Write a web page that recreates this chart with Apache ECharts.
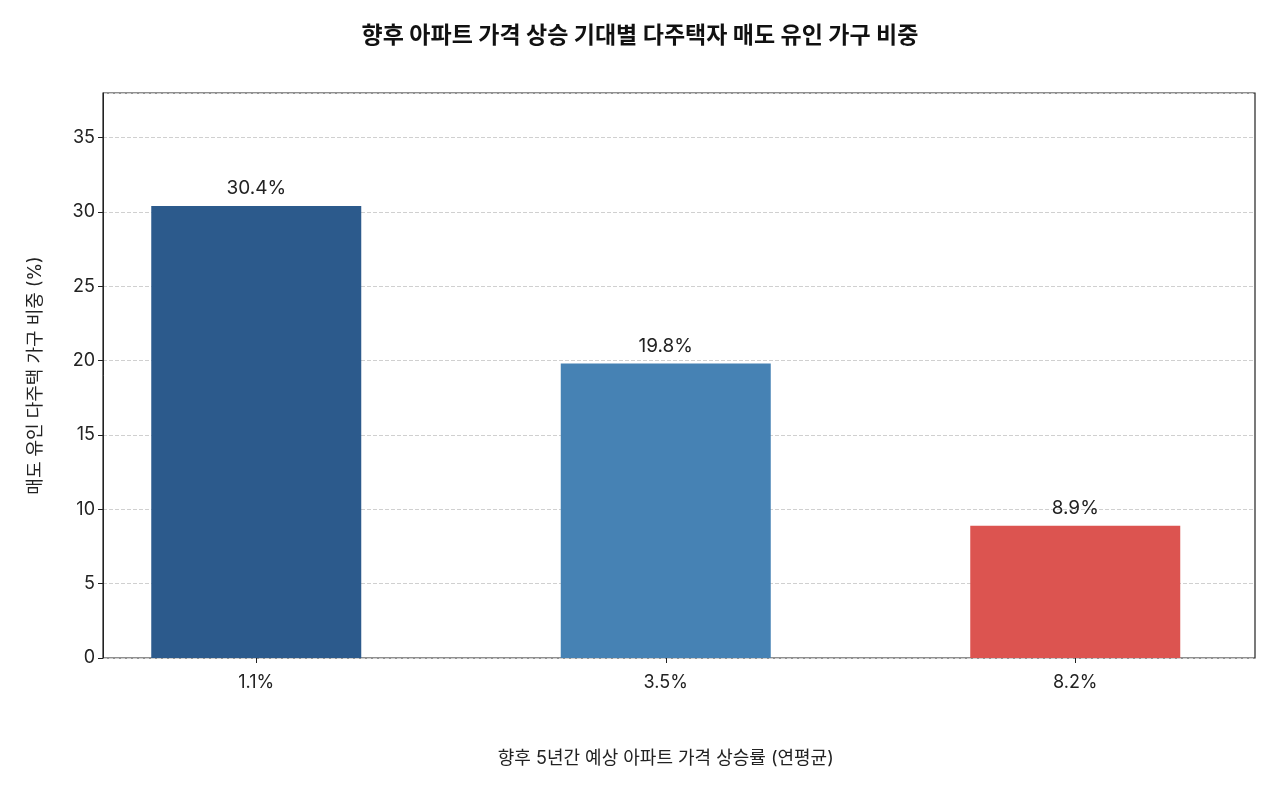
<!DOCTYPE html>
<html><head><meta charset="utf-8">
<script src="https://cdn.jsdelivr.net/npm/echarts@6/dist/echarts.min.js"></script>
<style>html,body{margin:0;background:#fff}#c{width:1280px;height:800px}</style>
</head><body><div id="c"></div>
<script>
const categories = ['1.1%', '3.5%', '8.2%'];
const values = [30.4, 19.8, 8.9];
const colors = ['#2c5a8c', '#4682b4', '#dc5450'];
const F = 'Inter, "Noto Sans CJK KR", sans-serif';
const chart = echarts.init(document.getElementById('c'));
chart.setOption({
  title: { text: '향후 아파트 가격 상승 기대별 다주택자 매도 유인 가구 비중', left: 'center', top: 20,
    textStyle: { fontFamily: F, fontSize: 23, fontWeight: 'bold', color: '#111' } },
  grid: [
    { left: 103, right: 25, top: 93, bottom: 142, show: true, borderColor: '#222', borderWidth: 1.2 },
    { left: 51.5, right: -28.5, top: 93, bottom: 142 }
  ],
  xAxis: [
    { gridIndex: 0, type: 'value', min: 0, max: 1, show: false },
    { gridIndex: 1, type: 'category', data: categories,
      name: '향후 5년간 예상 아파트 가격 상승률 (연평균)', nameLocation: 'middle', nameGap: 92,
      nameTextStyle: { fontFamily: F, fontSize: 18, color: '#222' },
      axisLine: { show: false }, axisTick: { show: true, alignWithLabel: true, lineStyle: { color: '#222' } },
      axisLabel: { fontFamily: F, fontSize: 18, color: '#222', margin: 16 } }
  ],
  yAxis: [
    { gridIndex: 0, type: 'value', min: 0, max: 38, interval: 5,
      name: '매도 유인 다주택 가구 비중 (%)', nameLocation: 'middle', nameGap: 58,
      nameTextStyle: { fontFamily: F, fontSize: 18, color: '#222' },
      axisLine: { show: true, lineStyle: { color: '#222' } }, axisTick: { show: true, lineStyle: { color: '#222' } },
      axisLabel: { fontFamily: F, fontSize: 18, color: '#222', showMaxLabel: false },
      splitLine: { lineStyle: { type: 'dashed', color: '#d0d0d0' } } },
    { gridIndex: 1, type: 'value', min: 0, max: 38, interval: 5, show: false, splitLine: { show: false } }
  ],
  series: [{ type: 'bar', xAxisIndex: 1, yAxisIndex: 1, barWidth: 210,
    data: values.map((v, i) => ({ value: v, itemStyle: { color: colors[i] } })),
    label: { show: true, position: 'top', distance: 8, formatter: p => p.value.toFixed(1) + '%',
      fontFamily: F, fontSize: 19, color: '#222' } }]
});
</script></body></html>
